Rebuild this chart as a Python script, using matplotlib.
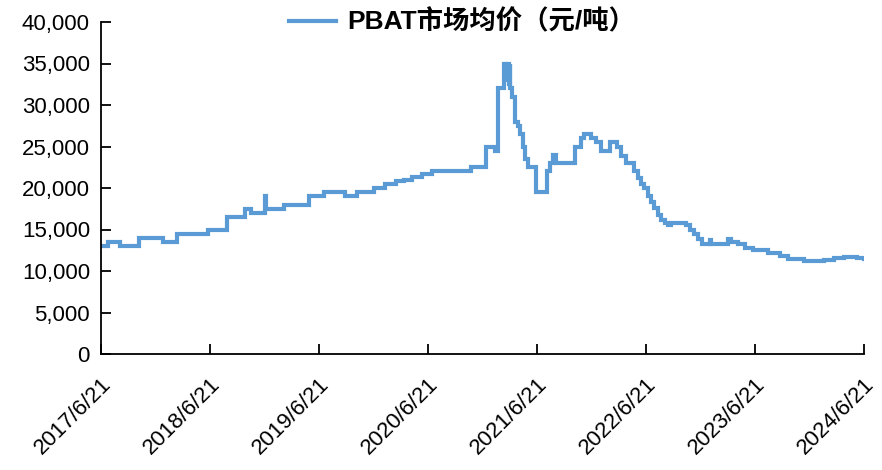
import matplotlib
matplotlib.use("Agg")
import matplotlib.pyplot as plt
import matplotlib.ticker as mticker
import pandas as pd

dates = [
    "2017-06-21", "2017-07-14", "2017-08-23", "2017-10-26", "2018-01-14", "2018-03-02",
    "2018-06-13", "2018-08-16", "2018-10-15", "2018-11-07", "2018-12-24", "2018-12-27",
    "2019-02-25", "2019-05-19", "2019-07-08", "2019-09-16", "2019-10-26", "2019-12-22",
    "2020-01-28", "2020-03-05", "2020-04-01", "2020-04-28", "2020-05-31", "2020-07-04",
    "2020-11-11", "2020-12-31", "2021-02-02", "2021-02-12", "2021-03-01", "2021-03-08",
    "2021-03-11", "2021-03-18", "2021-03-21", "2021-03-24", "2021-03-31", "2021-04-09",
    "2021-04-19", "2021-04-26", "2021-05-06", "2021-05-13", "2021-05-23", "2021-06-19",
    "2021-07-23", "2021-08-05", "2021-08-15", "2021-08-25", "2021-10-27", "2021-11-16",
    "2021-11-26", "2021-12-20", "2022-01-06", "2022-01-22", "2022-02-21", "2022-03-16",
    "2022-03-30", "2022-04-15", "2022-05-12", "2022-05-26", "2022-06-05", "2022-06-15",
    "2022-06-28", "2022-07-08", "2022-07-18", "2022-07-31", "2022-08-10", "2022-08-24",
    "2022-09-03", "2022-09-13", "2022-11-02", "2022-11-15", "2022-11-28", "2022-12-12",
    "2022-12-25", "2023-01-21", "2023-01-24", "2023-03-24", "2023-04-03", "2023-04-26",
    "2023-05-20", "2023-06-14", "2023-08-03", "2023-09-12", "2023-10-09", "2023-12-04",
    "2024-02-09", "2024-03-13", "2024-04-16", "2024-05-29", "2024-06-21",
]
prices = [
    13000, 13500, 13000, 14000, 13500, 14500,
    15000, 16500, 17500, 17000, 19000, 17500,
    18000, 19000, 19500, 19000, 19500, 20000,
    20500, 20800, 21000, 21300, 21700, 22000,
    22500, 25000, 24500, 32000, 35000, 33000,
    35000, 32500, 35000, 32000, 31000, 28000,
    27500, 26500, 25000, 23500, 22500, 19500,
    22000, 23000, 24000, 23000, 25000, 26000,
    26500, 26000, 25500, 24500, 25500, 25000,
    23800, 23000, 22000, 21200, 20500, 20000,
    19000, 18300, 17600, 16800, 16200, 15800,
    15500, 15800, 15500, 14900, 14400, 13900,
    13300, 13700, 13200, 13900, 13500, 13300,
    12800, 12500, 12200, 11800, 11500, 11200,
    11300, 11600, 11700, 11600, 11500,
]
tick_dates = ["2017-06-21", "2018-06-21", "2019-06-21", "2020-06-21",
              "2021-06-21", "2022-06-21", "2023-06-21", "2024-06-21"]
tick_labels = ["2017/6/21", "2018/6/21", "2019/6/21", "2020/6/21",
               "2021/6/21", "2022/6/21", "2023/6/21", "2024/6/21"]
series_name = "PBAT市场均价（元/吨）"

plt.rcParams["font.family"] = ["Liberation Sans", "Noto Sans CJK SC", "DejaVu Sans"]

x = pd.to_datetime(dates)
fig = plt.figure(figsize=(8.82, 4.70), dpi=100)
ax = fig.add_axes([101/882, 116/470, (864-101)/882, (354-22)/470])

ax.plot(x, prices, drawstyle="steps-post", color="#5B9BD5", lw=3.0,
        label=series_name, solid_joinstyle="miter")

ax.set_xlim(pd.Timestamp(tick_dates[0]), pd.Timestamp(tick_dates[-1]))
ax.set_ylim(0, 40000)
ax.set_yticks(range(0, 40001, 5000))
ax.yaxis.set_major_formatter(mticker.FuncFormatter(lambda v, p: f"{int(v):,}"))
ax.set_xticks(pd.to_datetime(tick_dates))
ax.set_xticklabels(tick_labels, rotation=45, ha="right", rotation_mode="anchor")

for s in ["top", "right"]:
    ax.spines[s].set_visible(False)
for s in ["left", "bottom"]:
    ax.spines[s].set_linewidth(1.3)
    ax.spines[s].set_color("black")
ax.tick_params(axis="both", direction="in", length=7, width=1.3, labelsize=16, pad=8)
ax.tick_params(axis="x", pad=14)

leg = ax.legend(loc="center", bbox_to_anchor=(462/882, 1 - 22/470), bbox_transform=fig.transFigure,
                frameon=False, handlelength=1.8, handletextpad=0.4,
                prop={"size": 19, "weight": "bold"})

fig.savefig("out.png", dpi=100)
